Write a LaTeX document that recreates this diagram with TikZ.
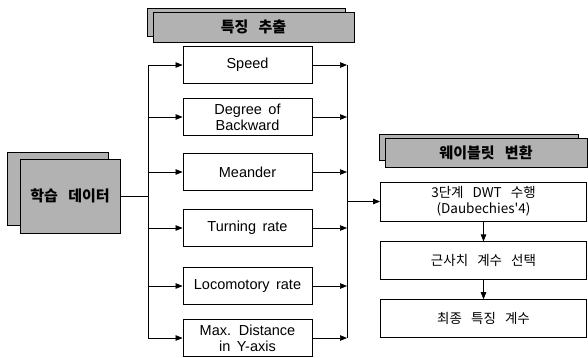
\documentclass[tikz,border=0pt]{standalone}
\usepackage{fontspec}
\setmainfont{Liberation Sans}[WordSpace=1.6]
\newfontfamily\kr{Noto Sans CJK KR}[WordSpace=2]
\newfontfamily\krhead{Noto Sans CJK KR}[WordSpace=3]
\usetikzlibrary{arrows.meta,positioning}

\begin{document}
\begin{tikzpicture}[
    x=1pt, y=-1pt,
    featbox/.style={
        rectangle, draw=black, fill=white, line width=0.8pt,
        minimum width=129pt, minimum height=37pt,
        align=center, font=\fontsize{14.5}{16}\selectfont,
        inner sep=1pt
    },
    flowbox/.style={
        rectangle, draw=black, fill=white, line width=0.8pt,
        minimum width=206pt, minimum height=38pt,
        align=center, font=\kr\fontsize{13.5}{16}\selectfont,
        inner sep=1pt
    },
    shaded/.style={
        rectangle, draw=black, fill=black!30, line width=0.8pt,
        inner sep=0pt, font=\krhead\bfseries\fontsize{15}{17}\selectfont
    },
    link/.style={-{Triangle[length=7pt,width=5.5pt]}, line width=0.7pt},
    bus/.style={line width=0.7pt}
]

\useasboundingbox (0,0) rectangle (588,357);

\def\xFeat{247.5}
\def\xFlow{483.5}

\node[shaded, minimum width=198pt, minimum height=28pt] (feathead-bk) at (246.5,22) {};
\node[shaded, minimum width=201pt, minimum height=30pt] (feathead) at (253.5,27) {특징 추출};

\node[featbox] (f1) at (\xFeat,65) {Speed};
\node[featbox] (f2) at (\xFeat,117) {Degree of\\Backward};
\node[featbox] (f3) at (\xFeat,172) {Meander};
\node[featbox] (f4) at (\xFeat,228) {Turning rate};
\node[featbox] (f5) at (\xFeat,286) {Locomotory rate};
\node[featbox] (f6) at (\xFeat,338) {Max. Distance\\in Y-axis};

\node[shaded, minimum width=101pt, minimum height=73pt] (data-bk) at (57.5,188.5) {};
\node[shaded, minimum width=100pt, minimum height=74pt] (data) at (70,196) {학습 데이터};

\node[shaded, minimum width=199pt, minimum height=26pt] (wavhead-bk) at (478.5,147) {};
\node[shaded, minimum width=202pt, minimum height=29pt] (wavhead) at (486,152.5) {웨이블릿 변환};

\node[flowbox, minimum height=39pt] (dwt) at (\xFlow,201.5) {3단계 DWT 수행\\(Daubechies'4)};
\node[flowbox, below=20pt of dwt] (approx) {근사치 계수 선택};
\node[flowbox, below=19pt of approx] (final) {최종 특징 계수};

\coordinate (lbus) at (148,196);
\coordinate (rbus) at (347,201.5);

\draw[bus] (data.east) -- (lbus);
\draw[bus] (lbus |- f1) -- (lbus |- f6);
\draw[link] (lbus |- f1) -- (f1.west);
\draw[link] (lbus |- f2) -- (f2.west);
\draw[link] (lbus |- f3) -- (f3.west);
\draw[link] (lbus |- f4) -- (f4.west);
\draw[link] (lbus |- f5) -- (f5.west);
\draw[link] (lbus |- f6) -- (f6.west);

\draw[link] (f1.east) -- (rbus |- f1);
\draw[link] (f2.east) -- (rbus |- f2);
\draw[link] (f3.east) -- (rbus |- f3);
\draw[link] (f4.east) -- (rbus |- f4);
\draw[link] (f5.east) -- (rbus |- f5);
\draw[link] (f6.east) -- (rbus |- f6);
\draw[bus] (rbus |- f1) -- (rbus |- f6);
\draw[link] (rbus) -- (dwt.west);

\draw[link] (dwt) -- (approx);
\draw[link] (approx) -- (final);

\end{tikzpicture}
\end{document}
